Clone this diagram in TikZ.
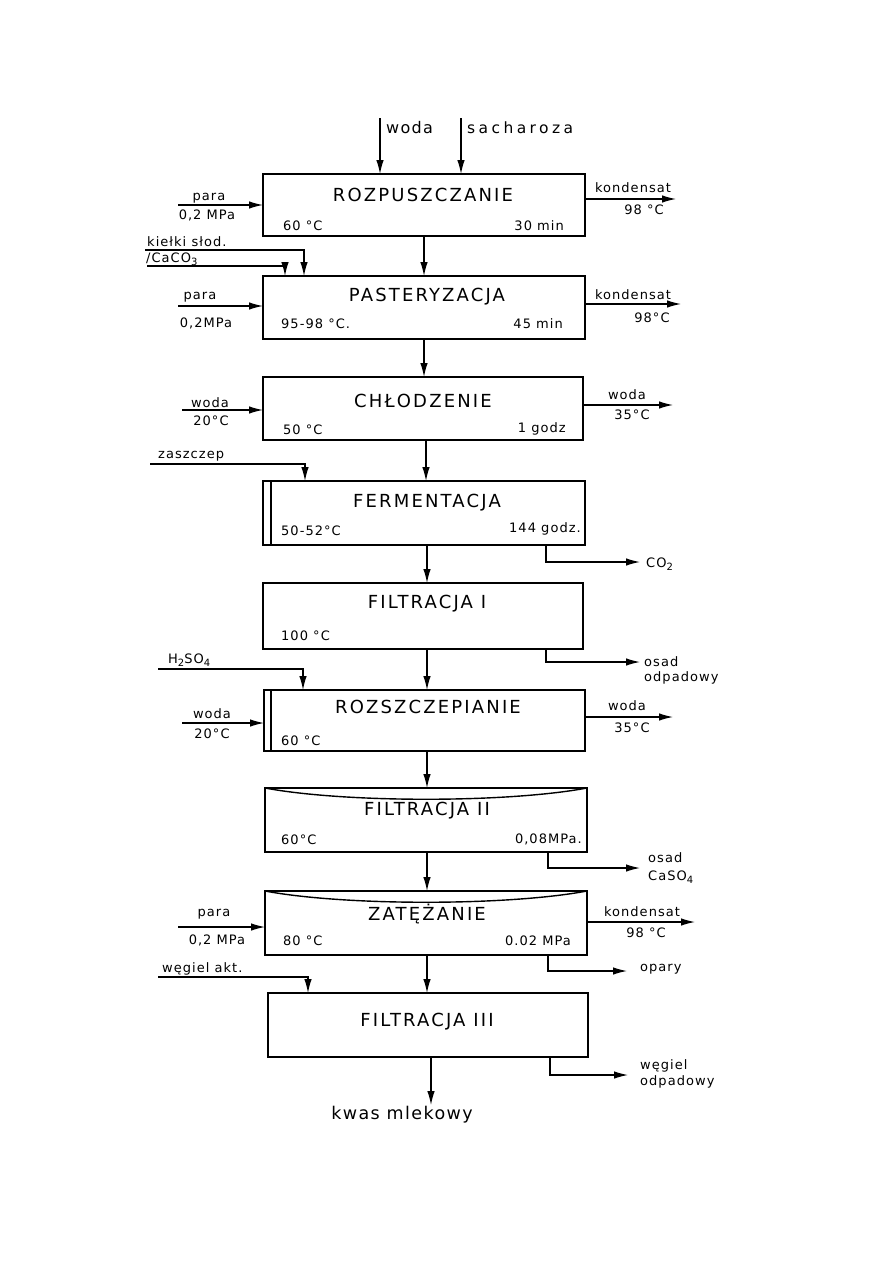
\documentclass[tikz,border=0pt]{standalone}
\usepackage{fontspec}
\setmainfont{DejaVu Sans}
\newfontfamily\ttlfont[LetterSpace=12]{DejaVu Sans}
\newfontfamily\spfont[LetterSpace=8]{DejaVu Sans}
\newfontfamily\wspfont[LetterSpace=22]{DejaVu Sans}
\usetikzlibrary{arrows.meta,calc}
\newcommand\sbs[1]{\raisebox{-0.45ex}{\fontsize{10}{10}\selectfont #1}}
\begin{document}
\begin{tikzpicture}[x=1pt,y=-1pt,
 procbox/.style={draw, line width=2.6pt, inner sep=0pt, outer sep=0pt, anchor=north west},
 arr/.style={line width=1.2pt, -{Latex[length=14pt,width=7.5pt]}},
 thin/.style={line width=1.4pt},
 ttl/.style={inner sep=0pt, font=\ttlfont\fontsize{18}{18}\selectfont},
 lbl/.style={inner sep=0pt, font=\spfont\fontsize{13}{13}\selectfont},
 big/.style={inner sep=0pt, font=\spfont\fontsize{16}{16}\selectfont},
 bigw/.style={inner sep=0pt, font=\wspfont\fontsize{15.5}{15.5}\selectfont}]
\useasboundingbox (0,0) rectangle (893,1263);

% ---------- boxes ----------
\node[procbox, minimum width=322pt, minimum height=62pt] (b1) at (263,174) {};
\node[procbox, minimum width=322pt, minimum height=63pt] (b2) at (263,276) {};
\node[procbox, minimum width=320pt, minimum height=63pt] (b3) at (263,377) {};
\node[procbox, minimum width=322pt, minimum height=64pt] (b4) at (263,481) {};
\node[procbox, minimum width=320pt, minimum height=66pt] (b5) at (263,583) {};
\node[procbox, minimum width=321pt, minimum height=61pt] (b6) at (264,690) {};
\node[procbox, minimum width=322pt, minimum height=64pt] (b7) at (265,788) {};
\node[procbox, minimum width=322pt, minimum height=64pt] (b8) at (265,891) {};
\node[procbox, minimum width=320pt, minimum height=64pt] (b9) at (268,993) {};

% inner details
\draw[thin] ($(b4.north west)+(8,0)$) -- ($(b4.south west)+(8,0)$);
\draw[thin] ($(b6.north west)+(7,0)$) -- ($(b6.south west)+(7,0)$);
\draw[thin] (b7.north west) .. controls +(80,15) and +(-80,15) .. (b7.north east);
\draw[thin] (b8.north west) .. controls +(80,15) and +(-80,15) .. (b8.north east);

% ---------- titles ----------
\node[ttl] (n1) at (423,195) {ROZPUSZCZANIE};
\node[ttl] (n2) at (427,297) {PASTERYZACJA};
\node[ttl] (n3) at (423,401) {CHŁODZENIE};
\node[ttl] (n4) at (427,503) {FERMENTACJA};
\node[ttl] (n5) at (427,604) {FILTRACJA I};
\node[ttl] (n6) at (428,707) {ROZSZCZEPIANIE};
\node[ttl] (n7) at (427,811) {FILTRACJA II};
\node[ttl] (n8) at (427,914) {ZATĘŻANIE};
\node[ttl] (n9) at (427,1022) {FILTRACJA III};

% ---------- box corner labels ----------
\node[lbl, anchor=west] (c1a) at (283,226) {60 °C};
\node[lbl, anchor=east] (c1b) at (564,226) {30 min};
\node[lbl, anchor=west] (c2a) at (281,324) {95-98 °C.};
\node[lbl, anchor=east] (c2b) at (563,324) {45 min};
\node[lbl, anchor=west] (c3a) at (283,430) {50 °C};
\node[lbl, anchor=east] (c3b) at (566,429) {1 godz};
\node[lbl, anchor=west] (c4a) at (281,531) {50-52°C};
\node[lbl, anchor=east] (c4b) at (581,529) {144 godz.};
\node[lbl, anchor=west] (c5a) at (281,636) {100 °C};
\node[lbl, anchor=west] (c6a) at (281,741) {60 °C};
\node[lbl, anchor=west] (c7a) at (281,840) {60°C};
\node[lbl, anchor=east] (c7b) at (582,839) {0,08MPa.};
\node[lbl, anchor=west] (c8a) at (283,941) {80 °C};
\node[lbl, anchor=east] (c8b) at (571,941) {0.02 MPa};

% ---------- vertical main flow ----------
\coordinate (v1) at (424,0);
\coordinate (v3) at (426,0);
\coordinate (v4) at (427,0);
\coordinate (v9) at (431,0);
\coordinate (prod) at (431,1105);
\draw[arr] (b1.south -| v1) -- (b2.north -| v1);
\draw[arr] (b2.south -| v1) -- (b3.north -| v1);
\draw[arr] (b3.south -| v3) -- (b4.north -| v3);
\draw[arr] (b4.south -| v4) -- (b5.north -| v4);
\draw[arr] (b5.south -| v4) -- (b6.north -| v4);
\draw[arr] (b6.south -| v4) -- (b7.north -| v4);
\draw[arr] (b7.south -| v4) -- (b8.north -| v4);
\draw[arr] (b8.south -| v4) -- (b9.north -| v4);
\draw[arr] (b9.south -| v9) -- (prod);
\node[inner sep=0pt, font=\spfont\fontsize{17.5}{17.5}\selectfont] (kwas) at (402,1115) {kwas mlekowy};

% ---------- top inputs ----------
\coordinate (wtop) at (380,118);
\coordinate (stop) at (461,118);
\draw[arr] (wtop) -- (wtop |- b1.north);
\draw[arr] (stop) -- (stop |- b1.north);
\node[big, anchor=west] (twoda) at (386,128) {woda};
\node[bigw, anchor=west] (tsach) at (467,128) {sacharoza};

% ---------- left inputs ----------
\coordinate (p1) at (178,205);
\draw[arr] (p1) -- (p1 -| b1.west);
\node[lbl] (p1a) at (209,198) {para};
\node[lbl] (p1b) at (207,215) {0,2 MPa};

\coordinate (ks) at (145,250);
\coordinate (ksx) at (304,0);
\draw[arr] (ks) -| (ksx |- b2.north);
\node[lbl, anchor=west] (ksl) at (147,242) {kiełki słod.};
\coordinate (cc) at (147,266);
\coordinate (ccx) at (285,0);
\draw[arr] (cc) -| (ccx |- b2.north);
\node[lbl, anchor=west] (ccl) at (146,259) {/CaCO\sbs{3}};

\coordinate (p2) at (178,306);
\draw[arr] (p2) -- (p2 -| b2.west);
\node[lbl] (p2a) at (200,297) {para};
\node[lbl] (p2b) at (206,323) {0,2MPa};

\coordinate (w3) at (182,410);
\draw[arr] (w3) -- (w3 -| b3.west);
\node[lbl] (w3a) at (210,403) {woda};
\node[lbl] (w3b) at (211,421) {20°C};

\coordinate (zs) at (150,464);
\coordinate (zsx) at (305,0);
\draw[arr] (zs) -| (zsx |- b4.north);
\node[lbl, anchor=west] (zsl) at (158,456) {zaszczep};

\coordinate (hs) at (158,669);
\coordinate (hsx) at (303,0);
\draw[arr] (hs) -| (hsx |- b6.north);
\node[lbl, anchor=west] (hsl) at (168,660) {H\sbs{2}SO\sbs{4}};

\coordinate (w6) at (182,723);
\draw[arr] (w6) -- (w6 -| b6.west);
\node[lbl] (w6a) at (212,714) {woda};
\node[lbl] (w6b) at (212,734) {20°C};

\coordinate (p8) at (178,927);
\draw[arr] (p8) -- (p8 -| b8.west);
\node[lbl] (p8a) at (214,914) {para};
\node[lbl] (p8b) at (217,940) {0,2 MPa};

\coordinate (wg) at (158,977);
\coordinate (wgx) at (308,0);
\draw[arr] (wg) -| (wgx |- b9.north);
\node[lbl, anchor=west] (wgl) at (162,969) {węgiel akt.};

% ---------- right outputs ----------
\coordinate (k1) at (676,199);
\draw[arr] (k1 -| b1.east) -- (k1);
\node[lbl] (k1a) at (633,188) {kondensat};
\node[lbl] (k1b) at (644,210) {98 °C};

\coordinate (k2) at (681,304);
\draw[arr] (k2 -| b2.east) -- (k2);
\node[lbl] (k2a) at (633,295) {kondensat};
\node[lbl] (k2b) at (652,318) {98°C};

\coordinate (k3) at (673,405);
\draw[arr] (k3 -| b3.east) -- (k3);
\node[lbl] (k3a) at (627,395) {woda};
\node[lbl] (k3b) at (632,415) {35°C};

\coordinate (k6) at (673,717);
\draw[arr] (k6 -| b6.east) -- (k6);
\node[lbl] (k6a) at (627,706) {woda};
\node[lbl] (k6b) at (632,728) {35°C};

\coordinate (k8) at (695,922);
\draw[arr] (k8 -| b8.east) -- (k8);
\node[lbl] (k8a) at (642,912) {kondensat};
\node[lbl] (k8b) at (646,933) {98 °C};

% ---------- bottom-right outputs ----------
\coordinate (o4) at (640,562);
\coordinate (o4x) at (546,0);
\draw[arr] (o4x |- b4.south) |- (o4);
\node[lbl, anchor=west] (o4l) at (646,564) {CO\sbs{2}};

\coordinate (o5) at (640,662);
\coordinate (o5x) at (546,0);
\draw[arr] (o5x |- b5.south) |- (o5);
\node[lbl, anchor=west] (o5a) at (644,662) {osad};
\node[lbl, anchor=west] (o5b) at (644,678) {odpadowy};

\coordinate (o7) at (640,868);
\coordinate (o7x) at (548,0);
\draw[arr] (o7x |- b7.south) |- (o7);
\node[lbl, anchor=west] (o7a) at (648,858) {osad};
\node[lbl, anchor=west] (o7b) at (648,877) {CaSO\sbs{4}};

\coordinate (o8) at (627,971);
\coordinate (o8x) at (548,0);
\draw[arr] (o8x |- b8.south) |- (o8);
\node[lbl, anchor=west] (o8l) at (640,969) {opary};

\coordinate (o9) at (628,1075);
\coordinate (o9x) at (550,0);
\draw[arr] (o9x |- b9.south) |- (o9);
\node[lbl, anchor=west] (o9a) at (640,1066) {węgiel};
\node[lbl, anchor=west] (o9b) at (640,1082) {odpadowy};

\end{tikzpicture}
\end{document}
